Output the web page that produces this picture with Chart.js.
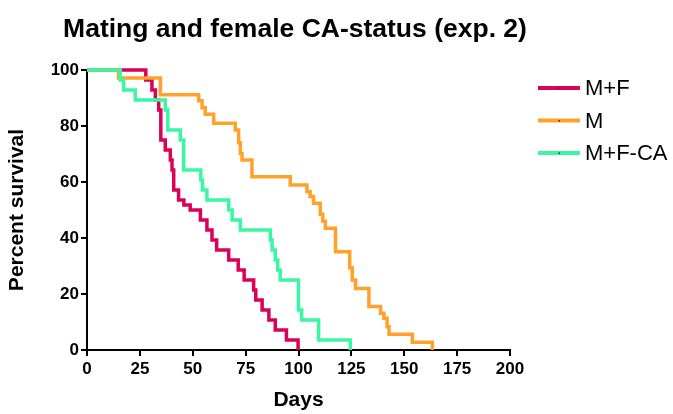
<!DOCTYPE html>
<html><head><meta charset="utf-8">
<script src="https://cdn.jsdelivr.net/npm/chart.js@4"></script>
<style>html,body{margin:0;padding:0;background:#fff;}#wrap{width:673px;height:414px;position:relative;}</style>
</head><body><div id="wrap"><canvas id="c" width="673" height="414"></canvas></div>
<script>
const chartTitle = 'Mating and female CA-status (exp. 2)';
const seriesNames = ['M+F', 'M', 'M+F-CA'];
const seriesColors = ['#DB0058', '#FFA12B', '#3AF7A2'];

// M+F
const mfDays = [0, 27.8, 30.7, 32.3, 33.9, 34.9, 37.0, 39.4, 40.2, 41.0, 43.3, 45.8, 48.8, 53.6, 56.7, 59.1, 61.3, 67.0, 71.5, 74.3, 78.8, 79.8, 82.8, 86.0, 89.0, 94.3, 99.8];
const mfSurv = [100, 96.4, 92.9, 89.3, 85.7, 75.0, 71.4, 67.9, 64.3, 57.1, 53.6, 51.8, 50.0, 46.4, 42.9, 39.3, 35.7, 32.1, 28.6, 25.0, 21.4, 17.9, 14.3, 10.7, 7.1, 3.6, 0];
// M
const mDays = [0, 14.9, 34.7, 52.8, 54.4, 55.9, 59.9, 70.1, 71.7, 72.5, 73.3, 78.0, 96.1, 104.0, 105.5, 107.1, 110.3, 111.5, 112.7, 117.5, 124.2, 125.4, 127.0, 133.3, 138.8, 140.4, 141.9, 142.8, 153.8, 163.3];
const mSurv = [100, 97.1, 91.2, 89.0, 86.5, 84.2, 81.0, 78.6, 74.0, 70.2, 67.9, 61.9, 58.9, 56.5, 54.8, 52.4, 48.5, 46.0, 43.5, 35.1, 29.4, 25.0, 22.0, 15.5, 13.1, 11.3, 8.3, 5.6, 2.8, 0];
// M+F-CA
const caDays = [0, 15.7, 17.3, 22.8, 37.0, 38.2, 44.1, 45.7, 53.8, 54.6, 56.7, 67.0, 68.6, 72.5, 86.7, 87.5, 89.0, 90.2, 91.4, 100.0, 101.5, 109.5, 124.5];
const caSurv = [100, 96.4, 92.9, 89.3, 85.7, 78.6, 75.0, 64.3, 60.7, 57.1, 53.6, 50.0, 46.4, 42.9, 39.3, 35.7, 32.1, 28.6, 25.0, 14.3, 10.7, 3.6, 0];

const xTicks = [0, 25, 50, 75, 100, 125, 150, 175, 200];
const yTicks = [0, 20, 40, 60, 80, 100];

const FONT = '"Liberation Sans", Arial, sans-serif';
function pts(d, s) { return d.map((x, i) => ({ x: x, y: s[i] })); }

const overlay = {
  id: 'overlay',
  afterDraw(chart) {
    const ctx = chart.ctx;
    ctx.save();
    ctx.fillStyle = '#000';
    ctx.font = 'bold 26.5px ' + FONT;
    ctx.textAlign = 'center';
    ctx.textBaseline = 'middle';
    ctx.fillText(chartTitle, 295, 30);
    ctx.font = '22px ' + FONT;
    ctx.textAlign = 'left';
    seriesNames.forEach((n, i) => {
      const y = 88 + 32.5 * i;
      ctx.strokeStyle = seriesColors[i];
      ctx.lineWidth = 4;
      ctx.beginPath(); ctx.moveTo(538, y); ctx.lineTo(580, y); ctx.stroke();
      ctx.fillStyle = '#333';
      ctx.fillRect(558.5, y - 0.5, 1.5, 1.5);
      ctx.fillStyle = '#000';
      ctx.fillText(n, 585, y + 1);
    });
    ctx.restore();
  }
};

const axisCommon = {
  grid: { display: true, drawOnChartArea: false, drawTicks: true, tickLength: 6, color: '#000', lineWidth: 2 },
  border: { display: true, color: '#000', width: 2 },
};

new Chart(document.getElementById('c'), {
  type: 'line',
  data: {
    datasets: [
      { label: seriesNames[0], data: pts(mfDays, mfSurv), borderColor: seriesColors[0], order: 3 },
      { label: seriesNames[1], data: pts(mDays, mSurv), borderColor: seriesColors[1], order: 2 },
      { label: seriesNames[2], data: pts(caDays, caSurv), borderColor: seriesColors[2], order: 1 }
    ].map(d => Object.assign(d, { stepped: 'before', borderWidth: 3.5, pointRadius: 0, fill: false, clip: false, tension: 0 }))
  },
  options: {
    responsive: false,
    animation: false,
    devicePixelRatio: 1,
    layout: { padding: { left: 0, right: 163, top: 70, bottom: 0 } },
    plugins: { legend: { display: false }, title: { display: false }, tooltip: { enabled: false } },
    scales: {
      x: Object.assign({}, axisCommon, {
        type: 'linear', min: 0, max: 200,
        afterBuildTicks: s => { s.ticks = xTicks.map(v => ({ value: v })); },
        afterFit: s => { s.height = 64; },
        ticks: { color: '#000', font: { family: FONT, size: 17, weight: 'bold' }, padding: 3, maxRotation: 0 },
        title: { display: true, text: 'Days', color: '#000', font: { family: FONT, size: 21, weight: 'bold' }, padding: { top: 0, bottom: 1 } }
      }),
      y: Object.assign({}, axisCommon, {
        type: 'linear', min: 0, max: 100,
        afterBuildTicks: s => { s.ticks = yTicks.map(v => ({ value: v })); },
        afterFit: s => { s.width = 87; },
        ticks: { color: '#000', font: { family: FONT, size: 17, weight: 'bold' }, padding: 2 },
        title: { display: true, text: 'Percent survival', color: '#000', font: { family: FONT, size: 21, weight: 'bold' }, padding: { top: 5, bottom: 0 } }
      })
    }
  },
  plugins: [overlay]
});
</script></body></html>
